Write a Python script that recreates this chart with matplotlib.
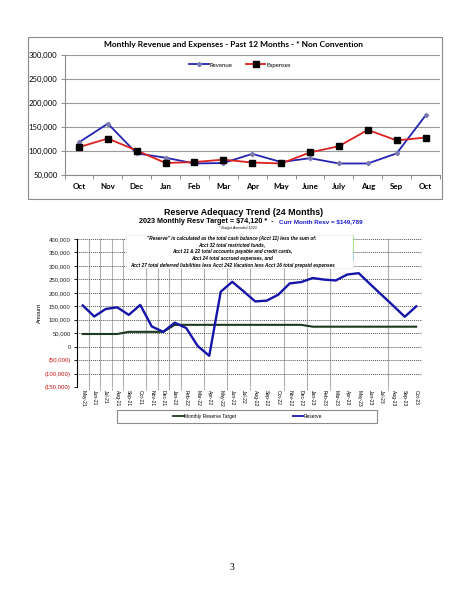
import matplotlib
matplotlib.use("Agg")
import matplotlib.pyplot as plt
from matplotlib.patches import Rectangle
from matplotlib.lines import Line2D
from matplotlib.ticker import FuncFormatter

# ---- Daten: Einnahmen / Ausgaben (letzte 12 Monate) ----
months_top = ["Oct", "Nov", "Dec", "Jan", "Feb", "Mar", "Apr", "May",
              "June", "July", "Aug", "Sep", "Oct"]
revenue = [118000, 157000, 95000, 86000, 74000, 75000, 94000, 77000,
           85000, 74000, 74000, 95000, 174000]
expenses = [108000, 126000, 101000, 75000, 77000, 82000, 76000, 74000,
            97000, 110000, 144000, 122000, 128000]

# ---- Daten: Reserve-Verlauf ----
months_res = ["May-21", "Jun-21", "Jul-21", "Aug-21", "Sep-21", "Oct-21",
              "Nov-21", "Dec-21", "Jan-22", "Feb-22", "Mar-22", "Apr-22",
              "May-22", "Jun-22", "Jul-22", "Aug-22", "Sep-22", "Oct-22",
              "Nov-22", "Dec-22", "Jan-23", "Feb-23", "Mar-23", "Apr-23",
              "May-23", "Jun-23", "Jul-23", "Aug-23", "Sep-23", "Oct-23"]
reserve = [153000, 112000, 140000, 146000, 118000, 155000, 75000, 55000,
           89000, 69000, 2000, -34000, 204000, 241000, 205000, 168000,
           171000, 193000, 235000, 240000, 255000, 249000, 246000, 268000,
           273000, 232000, 192000, 152000, 111000, 149789]
target = [47000] * 4 + [55000] * 4 + [81000] * 12 + [74120] * 10

W, H = 463, 599
fig = plt.figure(figsize=(W / 100, H / 100), dpi=100)
fig.patch.set_facecolor("white")


def fx(px):
    return px / W


def fy(py):
    return 1 - py / H


# ================= oberes Diagramm =================
fig.add_artist(Rectangle((fx(27.7), fy(199)), (441.7 - 27.7) / W, (199 - 37.3) / H,
                         transform=fig.transFigure, fill=False,
                         edgecolor="#8a8a8a", linewidth=0.8))

ax1 = fig.add_axes([fx(64.5), fy(175), (440 - 64.5) / W, 120 / H])
x_top = range(len(months_top))
ax1.plot(x_top, revenue, color="#2424b4", linewidth=1.3, marker="D",
         markersize=2.2, markerfacecolor="#7a7ab0", markeredgecolor="#7a7ab0",
         label="Revenue", zorder=3)
ax1.plot(x_top, expenses, color="#dd2020", linewidth=1.3, marker="s",
         markersize=3.9, markerfacecolor="black", markeredgecolor="black",
         label="Expenses", zorder=4)

ax1.set_xlim(-0.5, len(months_top) - 0.5)
ax1.set_ylim(50000, 300000)
ax1.set_yticks(range(50000, 300001, 50000))
ax1.yaxis.set_major_formatter(FuncFormatter(lambda v, p: f"{int(v):,}"))
ax1.set_xticks(list(x_top))
ax1.set_xticklabels(months_top, fontweight="bold")
ax1.set_xticks([i - 0.5 for i in range(len(months_top) + 1)], minor=True)
ax1.tick_params(axis="x", which="major", length=0, pad=6, labelsize=5.8)
ax1.tick_params(axis="x", which="minor", length=3, color="#8a8a8a", width=0.7)
ax1.tick_params(axis="y", length=3, color="#8a8a8a", width=0.7, labelsize=5.6,
                pad=2)
for lab in ax1.get_xticklabels() + ax1.get_yticklabels():
    lab.set_family("Lato")
ax1.grid(True, axis="y", color="#9a9a9a", linewidth=0.8)
ax1.set_axisbelow(True)
for s in ["top", "right"]:
    ax1.spines[s].set_visible(False)
for s in ["left", "bottom"]:
    ax1.spines[s].set_color("#8a8a8a")
    ax1.spines[s].set_linewidth(0.8)
ax1.legend(loc="center", bbox_to_anchor=(fx(240), fy(65)),
           bbox_transform=fig.transFigure, ncol=2, frameon=False,
           prop={"family": "Lato", "size": 4.3}, handlelength=3.3,
           columnspacing=2.2, handletextpad=0.2)

fig.text(fx(234), fy(45), "Monthly Revenue and Expenses - Past 12 Months - * Non Convention",
         ha="center", va="center", fontsize=6.0, fontweight="bold", family="Lato")

# ================= unteres Diagramm =================
ax2 = fig.add_axes([fx(77), fy(387), 345 / W, 148 / H])
x_res = range(len(months_res))
ax2.plot(x_res, target, color="#1e3a1e", linewidth=1.5, zorder=3,
         label="Monthly Reserve Target")
ax2.plot(x_res, reserve, color="#1414a8", linewidth=1.7, zorder=4,
         label="Reserve")

ax2.set_xlim(-0.5, len(months_res) - 0.5)
ax2.set_ylim(-150000, 400000)
ax2.set_yticks(range(-150000, 400001, 50000))


def fmt_amount(v, p):
    v = int(round(v))
    if v < 0:
        return f"({-v:,})"
    return f"{v:,}"


ax2.yaxis.set_major_formatter(FuncFormatter(fmt_amount))
ax2.set_xticks(list(x_res))
ax2.set_xticklabels(months_res, rotation=-90, fontsize=3.6, family="Liberation Sans")
ax2.tick_params(axis="x", which="major", length=0, pad=2)
vgrid = [0.5, 1.5, 2.5, 3.5, 5.5, 6.5, 7.5, 8.5, 10.5, 12.5, 14.5, 17.5,
         19.5, 21.5, 26.5]
ax2.set_xticks(vgrid, minor=True)
ax2.tick_params(axis="x", which="minor", length=2, color="#999999")
ax2.grid(True, which="minor", axis="x", color="#b0b0b0", linewidth=0.8)
ax2.grid(True, which="major", axis="y", color="#555555", linewidth=0.7,
         linestyle=(0, (1, 1)))
ax2.set_axisbelow(True)
ax2.tick_params(axis="y", length=2.5, width=0.6, labelsize=4.3, pad=2)
for lab in ax2.get_yticklabels():
    lab.set_family("Liberation Sans")
    if lab.get_text().startswith("("):
        lab.set_color("#cc1010")
    else:
        lab.set_color("#222222")
for s in ["top", "right", "bottom"]:
    ax2.spines[s].set_visible(False)
ax2.spines["left"].set_linewidth(0.8)
ax2.set_ylabel("Amount", fontsize=4.2, family="Liberation Sans", labelpad=2)

# Titel
fig.text(fx(244), fy(212.3), "Reserve Adequacy Trend (24 Months)",
         ha="center", va="center", fontsize=6.4, fontweight="bold",
         family="Liberation Sans")
fig.text(fx(278), fy(221.7), "2023 Monthly Resv Target = $74,120 *  -  ",
         ha="right", va="center", fontsize=5.2, fontweight="bold",
         family="Liberation Sans")
fig.text(fx(279), fy(221.7), "Curr Month Resv = $149,789",
         ha="left", va="center", fontsize=4.5, fontweight="bold",
         color="#1a1ad0", family="Liberation Sans")
fig.text(fx(238), fy(228), "* Budget Amended 11/23", ha="center", va="center",
         fontsize=2.4, style="italic", family="Liberation Sans")

# Erklaerungstext
fig.add_artist(Rectangle((fx(125.7), fy(267.7)), (352.7 - 125.7) / W,
                         (267.7 - 235) / H, transform=fig.transFigure,
                         facecolor="white", edgecolor="#e6e6e6",
                         linewidth=0.4, zorder=5))
fig.add_artist(Line2D([fx(352.7), fx(352.7)], [fy(235), fy(251.7)],
                      transform=fig.transFigure, color="#9ee07a",
                      linewidth=0.6, zorder=6))
fig.add_artist(Line2D([fx(352.7), fx(352.7)], [fy(253), fy(260)],
                      transform=fig.transFigure, color="#8ad0f0",
                      linewidth=0.6, zorder=6))
note_lines = [
    "\"Reserve\" is calculated as the total cash balance (Acct 11) less the sum of:",
    "Acct 32 total restricted funds,",
    "Acct 21 & 22 total accounts payable and credit cards,",
    "Acct 24 total accrued expenses, and",
    "Acct 27 total deferred liabilities less Acct 242 Vacation less Acct 16 total prepaid expenses",
]
for i, line in enumerate(note_lines):
    fig.text(fx(232), fy(238.3 + i * 6.7), line, ha="center", va="center",
             fontsize=3.45, fontweight="bold", style="italic",
             family="Liberation Sans", zorder=7)

# Legende unten
fig.add_artist(Rectangle((fx(116.7), fy(422.7)), (376.7 - 116.7) / W,
                         (422.7 - 410) / H, transform=fig.transFigure,
                         fill=False, edgecolor="#8a8a8a", linewidth=0.8))
leg_y = fy(416.3)
fig.add_artist(Line2D([fx(172.7), fx(184)], [leg_y, leg_y],
                      transform=fig.transFigure, color="#1e3a1e", linewidth=1.3))
fig.text(fx(184.5), leg_y, "Monthly Reserve Target", ha="left", va="center",
         fontsize=3.5, family="Liberation Sans")
fig.add_artist(Line2D([fx(292.7), fx(303)], [leg_y, leg_y],
                      transform=fig.transFigure, color="#1414a8", linewidth=1.3))
fig.text(fx(303.5), leg_y, "Reserve", ha="left", va="center",
         fontsize=3.5, family="Liberation Sans")

# Seitenzahl
fig.text(fx(232), fy(567), "3", ha="center", va="center", fontsize=7,
         family="Liberation Serif")

fig.savefig("out.png", dpi=100)
plt.close(fig)
